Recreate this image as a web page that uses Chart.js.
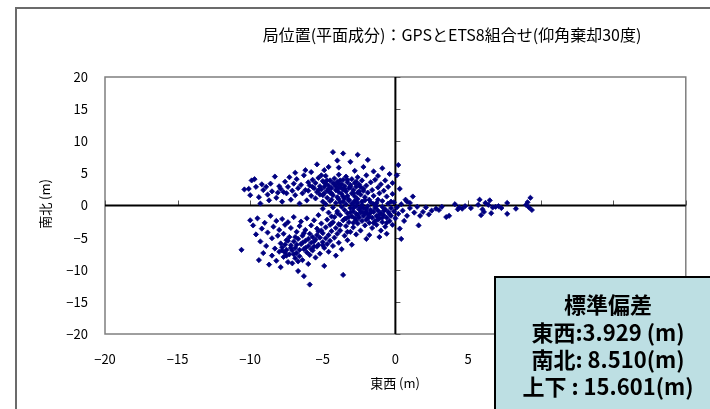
<!DOCTYPE html>
<html lang="ja">
<head>
<meta charset="UTF-8">
<title>局位置(平面成分)</title>
<script src="https://cdn.jsdelivr.net/npm/chart.js"></script>
<style>
  html, body { margin: 0; padding: 0; background: #fff; }
  #wrap { width: 710px; height: 409px; }
</style>
</head>
<body>
<div id="wrap"><canvas id="posChart" width="710" height="409"></canvas></div>
<script>
// 平面成分 [東西, 南北] (m) — 図から読み取り
const westUpper = [
  [-10.4,2.5],[-10.1,2.6],[-9.9,3.9],[-9.7,4.1],[-9.6,2.9],[-9.4,1.3],[-9.2,3.3],[-9.1,2.4],[-8.9,2.9],[-8.8,1.7],
  [-8.6,3.4],[-8.5,2.2],[-8.3,4.5],[-8.2,1.2],[-8.0,3.0],[-7.9,2.6],[-7.8,0.6],[-7.6,3.7],[-7.5,1.9],[-7.4,2.9],
  [-7.3,4.4],[-7.2,0.9],[-7.1,2.3],[-7.0,3.4],[-6.9,1.6],[-6.8,4.1],[-6.7,2.7],[-6.6,0.3],[-6.5,3.2],[-6.4,1.9],
  [-6.3,4.7],[-6.2,2.4],[-6.1,0.8],[-6.0,3.6],[-9.3,0.3],[-8.7,0.8],[-10.0,1.6],[-7.7,2.1],[-6.9,5.1],[-8.1,2.0]
];
const centerUpper = [
  [-4.3,8.3],[-3.6,8.1],[-2.6,7.9],[-4.0,7.0],[-3.1,6.8],[-1.9,7.1],[-5.4,6.4],[-4.9,5.5],[-2.2,6.0],[-1.5,5.3],
  [-0.9,5.8],[-0.4,4.9],[-5.8,5.2],[-4.6,6.0],[-3.9,5.9],[-2.8,5.4],[-1.2,4.6],[-0.7,3.9],[-0.2,3.5],[0.2,6.3],
  [-6.2,5.5],[-5.1,4.7],
  [-6.0,2.3],[-5.9,3.1],[-5.8,1.5],[-5.7,4.0],[-5.6,2.7],[-5.5,3.5],[-5.5,1.1],[-5.4,2.1],[-5.3,4.3],[-5.2,3.0],
  [-5.2,1.7],[-5.1,2.5],[-5.0,3.8],[-5.0,0.6],[-4.9,2.9],[-4.9,1.9],[-4.8,3.4],[-4.8,4.6],[-4.7,2.3],[-4.7,1.2],
  [-4.6,3.1],[-4.5,2.0],[-4.5,3.9],[-4.4,2.7],[-4.4,0.9],[-4.3,3.5],[-4.3,1.6],[-4.2,4.2],[-4.1,2.4],[-4.1,3.0],
  [-4.0,1.3],[-4.0,3.7],[-3.9,2.1],[-3.9,4.8],[-3.8,2.8],[-3.8,0.5],[-3.7,3.3],[-3.7,1.8],[-3.6,2.5],[-3.6,4.0],
  [-3.5,1.1],[-3.5,3.0],[-3.4,2.2],[-3.4,4.5],[-3.3,1.5],[-3.3,3.6],[-3.2,2.7],[-3.2,0.8],[-3.1,3.2],[-3.0,1.9],
  [-3.0,4.1],[-2.9,2.4],[-2.9,0.3],[-2.8,3.5],[-2.8,1.4],[-2.7,2.9],[-2.6,4.4],[-2.6,1.0],[-2.5,2.2],[-2.5,3.3],
  [-2.4,1.7],[-2.3,3.9],[-2.3,0.6],[-2.2,2.6],[-2.1,1.3],[-2.0,3.1],[-2.0,4.7],[-1.9,2.0],[-1.8,0.9],[-1.7,3.6],
  [-1.6,2.4],[-1.5,1.5],[-1.4,4.0],[-1.3,0.4],[-1.2,2.8],[-1.1,1.9],[-1.0,3.3],[-0.9,0.7],[-0.8,2.3],[-0.6,1.4],
  [-0.5,2.9],[-0.3,0.6],[-0.2,1.8],[0.1,4.7],[0.3,2.6],
  [-5.3,2.4],[-4.9,3.6],[-4.6,2.6],[-4.2,3.3],[-3.8,3.9],[-3.5,2.6],[-3.1,2.9],[-2.7,3.7],[-2.4,2.9],[-4.4,1.9],
  [-3.6,1.4],[-2.9,1.9],[-2.2,2.3],[-5.7,2.9],[-4.0,2.6],[-3.3,4.0],[-2.6,2.0],[-4.7,3.9],[-5.0,1.6],[-3.9,3.3]
];
const westLower = [
  [-10.6,-6.9],[-10.0,-2.3],[-9.8,-3.1],[-9.6,-4.5],[-9.5,-2.0],[-9.4,-8.5],[-9.3,-5.6],[-9.2,-3.6],[-9.1,-7.4],[-9.0,-2.7],
  [-8.9,-6.3],[-8.8,-4.2],[-8.7,-9.2],[-8.6,-1.6],[-8.5,-5.1],[-8.5,-7.8],[-8.4,-3.3],[-8.3,-6.7],[-8.2,-2.4],[-8.2,-8.6],
  [-8.1,-4.7],[-8.0,-7.2],[-8.0,-3.8],[-7.9,-5.9],[-7.9,-9.6],[-7.8,-2.1],[-7.8,-6.5],[-7.7,-4.4],[-7.7,-8.0],[-7.6,-7.3],
  [-7.6,-3.0],[-7.5,-5.4],[-7.5,-6.9],[-7.4,-8.8],[-7.4,-2.6],[-7.3,-7.6],[-7.3,-4.9],[-7.2,-6.2],[-7.2,-3.5],[-7.1,-7.0],
  [-7.1,-9.0],[-7.0,-5.6],[-7.0,-1.8],[-6.9,-8.2],[-6.9,-6.6],[-6.8,-4.1],[-6.8,-7.4],[-6.7,-10.2],[-6.7,-5.2],[-6.6,-3.2],
  [-6.6,-7.9],[-6.5,-6.0],[-6.5,-2.5],[-6.4,-8.5],[-6.4,-4.7],[-6.3,-6.8],[-6.3,-11.0],[-6.2,-3.8],[-6.2,-5.5],[-6.1,-7.3],
  [-6.1,-2.0],[-6.0,-6.3],[-6.0,-9.1],[-5.9,-4.4],[-5.9,-12.3],[-5.8,-5.8],[-5.8,-3.1],[-5.7,-7.0],[-5.7,-4.9],[-5.6,-2.3],
  [-5.6,-6.4],[-5.5,-5.3],[-5.5,-8.1],[-5.4,-3.6],[-5.4,-4.6],[-5.3,-6.1],[-5.3,-1.5],[-5.2,-5.0],[-5.2,-7.5],[-5.1,-3.9],
  [-5.1,-2.8],[-5.0,-5.7],[-5.0,-4.3],[-4.9,-6.6],[-4.9,-9.4],[-4.8,-3.4],[-4.8,-5.1],[-4.7,-2.2],[-4.7,-6.0],[-4.6,-4.6],
  [-4.6,-7.2],[-4.5,-3.0],[-4.5,-5.5],[-4.4,-1.7],[-4.4,-4.0],[-4.3,-6.3],[-4.3,-2.6],[-4.2,-5.0],[-4.1,-3.5],[-4.1,-7.8],
  [-4.0,-4.4],[-4.0,-1.2],[-3.9,-5.8],[-3.9,-2.9],[-3.8,-3.9],[-3.7,-6.8],[-3.6,-10.8],[-3.6,-2.3],[-3.5,-4.7],[-3.4,-3.2],
  [-3.3,-5.4],[-3.2,-1.8],[-3.1,-4.1],[-3.0,-6.1],[-2.9,-2.7],
  [-7.8,-7.0],[-7.5,-7.8],[-7.2,-6.6],[-7.0,-7.6],[-6.8,-6.1],[-6.6,-6.9],[-6.4,-5.8],[-6.2,-6.6],[-6.0,-5.2],[-5.8,-6.8],
  [-5.6,-5.6],[-5.4,-6.4],[-7.4,-5.5],[-6.9,-4.9],[-6.3,-4.3],[-5.9,-7.7],[-6.7,-8.7],[-7.6,-6.1],[-5.3,-4.0],[-5.0,-6.2]
];
const centerLower = [
  [-5.0,-0.5],[-4.8,0.2],[-4.6,-1.1],[-4.5,0.7],[-4.3,-0.3],[-4.2,-1.8],[-4.1,0.4],[-4.0,-0.9],[-3.9,1.0],[-3.8,-1.5],
  [-3.7,-0.2],[-3.6,0.6],[-3.5,-2.1],[-3.5,-0.7],[-3.4,0.2],[-3.3,-1.2],[-3.2,-2.6],[-3.2,0.9],[-3.1,-0.4],[-3.0,-1.7],
  [-3.0,0.3],[-2.9,-0.9],[-2.9,-3.4],[-2.8,-2.0],[-2.8,0.7],[-2.7,-1.3],[-2.7,-0.1],[-2.6,-2.8],[-2.6,0.4],[-2.5,-0.6],
  [-2.5,-1.9],[-2.4,-3.9],[-2.4,-1.1],[-2.3,0.1],[-2.3,-2.4],[-2.2,-0.4],[-2.2,-1.6],[-2.1,-3.1],[-2.1,0.8],[-2.0,-0.9],
  [-2.0,-2.2],[-1.9,-0.1],[-1.9,-1.4],[-1.8,-4.6],[-1.8,-2.7],[-1.7,-0.7],[-1.7,0.5],[-1.6,-1.9],[-1.6,-3.5],[-1.5,-1.0],
  [-1.5,0.2],[-1.4,-2.4],[-1.4,-0.4],[-1.3,-1.6],[-1.3,-3.0],[-1.2,-0.8],[-1.2,0.9],[-1.1,-2.0],[-1.0,-1.2],[-1.0,-3.9],
  [-0.9,-0.2],[-0.9,-2.6],[-0.8,-1.5],[-0.7,-0.6],[-0.7,-3.3],[-0.6,-1.9],[-0.5,0.3],[-0.5,-1.0],[-0.4,-2.4],[-0.3,-0.4],
  [-0.3,-1.6],[-0.2,-3.0],[-0.1,-0.9],[-0.1,0.5],[0.0,-2.0],[0.1,-0.3],[0.2,-1.3],[0.3,-3.6],[0.4,0.2],[0.5,-0.8],
  [0.6,-2.4],[0.7,0.9],[-3.8,-3.0],[-3.3,-4.1],[-2.7,-4.5],[-2.0,-5.2],[-4.4,-2.8],[-1.1,-4.9],[0.4,-5.2],[-0.6,-4.4],
  [0.8,-1.6],[1.0,0.4],
  [-2.9,-0.4],[-2.6,-1.5],[-2.4,-0.3],[-2.1,-1.2],[-1.9,-2.0],[-1.7,-1.1],[-1.5,-2.7],[-1.3,-0.1],[-1.1,-1.4],[-0.9,-1.9],
  [-0.8,-0.8],[-0.6,-2.7],[-2.3,-1.0],[-2.0,-0.5],[-1.8,-1.7],[-3.1,-1.1],[-3.4,-2.0],[-2.7,-2.3],[-1.2,-2.2],[-0.4,-1.3]
];
const eastTail = [
  [0.8,0.6],[1.2,1.4],[1.0,-0.4],[1.3,-1.1],[1.5,-0.2],[1.6,-3.1],[1.7,-1.6],[1.9,-1.0],[2.1,-0.3],[2.3,-1.4],
  [2.5,-0.8],[2.8,-0.5],[3.0,-0.7],[3.2,-0.2],[3.5,-1.8],[3.7,-1.6],[4.1,0.2],[4.3,-0.6],[4.4,-0.3],[4.6,-0.5],
  [4.8,-0.1],[5.2,-0.4],[5.7,0.1],[5.8,0.9],[5.9,-1.5],[6.0,-0.6],[6.1,-1.0],[6.2,0.4],[6.4,0.1],[6.5,0.8],
  [6.6,-1.2],[6.7,-0.3],[6.9,-0.2],[7.1,-0.1],[7.3,-0.4],[7.7,0.4],[7.7,-1.3],[8.3,-0.5],[9.0,0.1],[9.1,0.5],
  [9.3,1.2],[9.4,-0.7],[9.2,-0.3]
];

const axisMin = -20;
const axisMax = 20;
const axisStep = 5;

const titleText = '局位置(平面成分)：GPSとETS8組合せ(仰角棄却30度)';
const xTitle = '東西 (m)';
const yTitle = '南北 (m)';
const statLines = ['標準偏差', '東西:3.929 (m)', '南北: 8.510(m)', '上下 : 15.601(m)'];

const JP = "'Noto Sans CJK JP', 'Noto Sans', sans-serif";

const allPoints = [].concat(westUpper, centerUpper, westLower, centerLower, eastTail)
  .map(p => ({ x: p[0], y: p[1] }));

const fmtTick = v => (v < 0 ? '\u2212' + Math.abs(v) : String(v));

// 枠・ゼロ軸・タイトル・統計ボックス
const decorPlugin = {
  id: 'decor',
  beforeDraw(chart) {
    const { ctx, width, height } = chart;
    ctx.save();
    ctx.fillStyle = '#fff';
    ctx.fillRect(0, 0, width, height);
    // 外枠
    ctx.strokeStyle = '#6b6b6b';
    ctx.lineWidth = 2;
    ctx.beginPath();
    ctx.moveTo(16, height + 2);
    ctx.lineTo(16, 8);
    ctx.lineTo(width + 2, 8);
    ctx.stroke();
    // タイトル
    ctx.fillStyle = '#000';
    ctx.font = '16px ' + JP;
    ctx.textAlign = 'center';
    ctx.textBaseline = 'middle';
    ctx.fillText(titleText, 452, 35);
    // 軸タイトル
    ctx.font = '13px ' + JP;
    ctx.fillText(xTitle, 395, 383);
    ctx.translate(45, 204);
    ctx.rotate(-Math.PI / 2);
    ctx.fillText(yTitle, 0, 0);
    ctx.restore();
  },
  beforeDatasetsDraw(chart) {
    const { ctx, chartArea: a, scales: { x, y } } = chart;
    ctx.save();
    // プロットエリア枠
    ctx.strokeStyle = '#7f7f7f';
    ctx.lineWidth = 1.5;
    ctx.strokeRect(a.left, a.top, a.right - a.left, a.bottom - a.top);
    // 目盛り (内向き)
    const x0 = x.getPixelForValue(0);
    const y0 = y.getPixelForValue(0);
    ctx.strokeStyle = '#555';
    ctx.lineWidth = 1;
    for (let v = axisMin; v <= axisMax; v += axisStep) {
      const px = Math.round(x.getPixelForValue(v)) + 0.5;
      ctx.beginPath();
      ctx.moveTo(px, y0);
      ctx.lineTo(px, y0 - 5);
      ctx.stroke();
      const py = Math.round(y.getPixelForValue(v)) + 0.5;
      ctx.beginPath();
      ctx.moveTo(x0, py);
      ctx.lineTo(x0 + 5, py);
      ctx.stroke();
    }
    // ゼロ軸
    ctx.strokeStyle = '#000';
    ctx.lineWidth = 2;
    ctx.beginPath();
    ctx.moveTo(a.left, y0);
    ctx.lineTo(a.right, y0);
    ctx.moveTo(x0, a.top);
    ctx.lineTo(x0, a.bottom);
    ctx.stroke();
    ctx.restore();
  },
  afterDraw(chart) {
    const { ctx } = chart;
    ctx.save();
    ctx.fillStyle = '#bddfe3';
    ctx.fillRect(495, 277, 230, 140);
    ctx.strokeStyle = '#000';
    ctx.lineWidth = 2;
    ctx.strokeRect(495, 277, 230, 140);
    ctx.fillStyle = '#000';
    ctx.font = 'bold 22px ' + JP;
    ctx.textAlign = 'center';
    ctx.textBaseline = 'middle';
    const ys = [305, 333, 360, 387];
    statLines.forEach((t, i) => ctx.fillText(t, 608, ys[i]));
    ctx.restore();
  }
};

new Chart(document.getElementById('posChart'), {
  type: 'scatter',
  data: {
    datasets: [{
      data: allPoints,
      pointStyle: 'rectRot',
      pointRadius: 2.6,
      pointBorderWidth: 0.8,
      backgroundColor: '#000080',
      borderColor: '#000080'
    }]
  },
  options: {
    responsive: false,
    animation: false,
    layout: { padding: { left: 0, top: 77, right: 23, bottom: 0 } },
    plugins: { legend: { display: false }, tooltip: { enabled: false } },
    scales: {
      x: {
        type: 'linear',
        min: axisMin, max: axisMax,
        afterFit(s) { s.height = 75; },
        grid: { display: false, drawTicks: false },
        border: { display: false },
        ticks: { stepSize: axisStep, padding: 17, color: '#000', maxRotation: 0,
                 font: { family: JP, size: 13 }, callback: fmtTick }
      },
      y: {
        type: 'linear',
        min: axisMin, max: axisMax,
        afterFit(s) { s.width = 105; },
        grid: { display: false, drawTicks: false },
        border: { display: false },
        ticks: { stepSize: axisStep, padding: 17, color: '#000',
                 font: { family: JP, size: 13 }, callback: fmtTick }
      }
    }
  },
  plugins: [decorPlugin]
});
</script>
</body>
</html>
